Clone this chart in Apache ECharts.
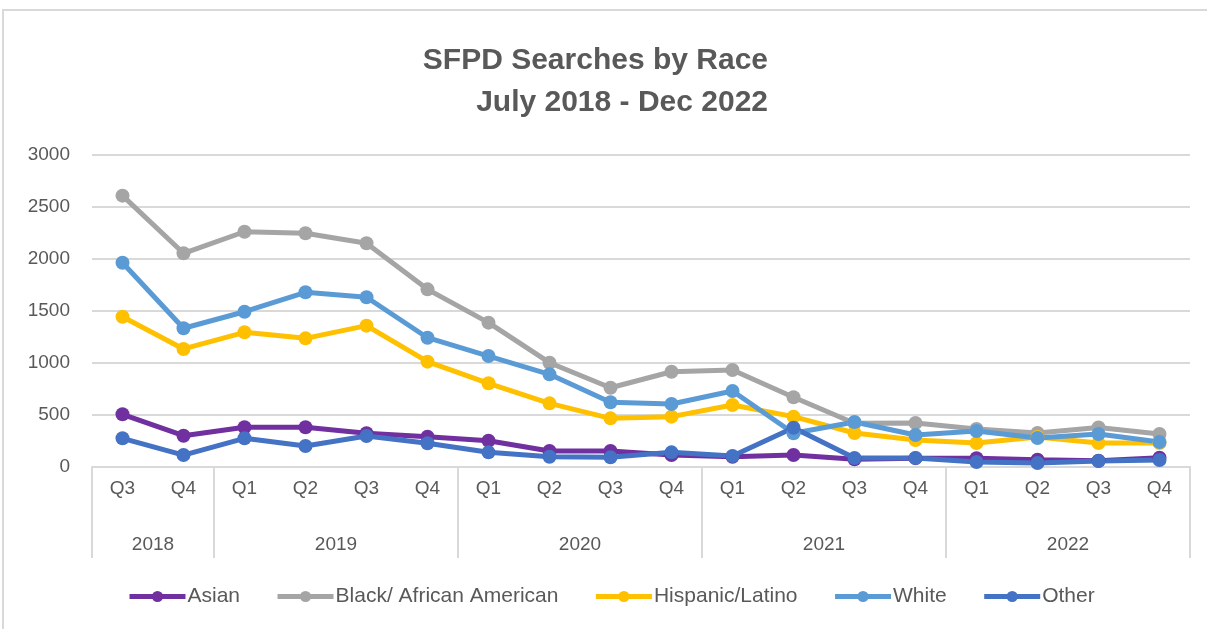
<!DOCTYPE html>
<html>
<head>
<meta charset="utf-8">
<script src="https://cdn.jsdelivr.net/npm/echarts@6/dist/echarts.min.js"></script>
<style>
    html, body { margin: 0; padding: 0; background: #fff; }
    #frame { position: absolute; left: 2px; top: 9px; width: 1230px; height: 650px; border: 2px solid #d9d9d9; }
    #main { position: absolute; left: 0; top: 0; width: 1207px; height: 629px; }
</style>
</head>
<body>
<div id="frame"></div>
<div id="main"></div>
<script>
// categories
var quarters = ['Q3','Q4','Q1','Q2','Q3','Q4','Q1','Q2','Q3','Q4','Q1','Q2','Q3','Q4','Q1','Q2','Q3','Q4'];
var years = ['2018', '2019', '2020', '2021', '2022'];
var quartersPerYear = [2, 4, 4, 4, 4];

// series values
var asian    = [507, 301, 382, 382, 324, 291, 253, 154, 154, 115, 99, 115, 75, 85, 85, 70, 60, 90];
var black    = [2609, 2055, 2262, 2247, 2151, 1708, 1388, 1003, 762, 916, 933, 670, 420, 423, 365, 327, 380, 317];
var hispanic = [1445, 1135, 1295, 1237, 1359, 1013, 805, 612, 468, 484, 596, 484, 327, 260, 230, 288, 230, 230];
var white    = [1964, 1334, 1493, 1680, 1632, 1243, 1067, 891, 622, 606, 731, 324, 433, 308, 346, 279, 317, 240];
var other    = [276, 115, 276, 202, 298, 228, 141, 99, 93, 141, 106, 378, 87, 87, 48, 38, 58, 67];

// y ticks
var yMin = 0, yMax = 3000, yStep = 500;

// second level of the x axis: half-quarter slots, years sit at group centres
var yearSlots = [];
var boundaries = [0];
var pos = 0;
for (var i = 0; i < 2 * quarters.length + 1; i++) yearSlots.push('');
for (var j = 0; j < years.length; j++) {
    yearSlots[2 * pos + quartersPerYear[j]] = years[j];
    pos += quartersPerYear[j];
    boundaries.push(2 * pos);
}

var txt = '#595959';
var font = '"Liberation Sans", Arial, sans-serif';

function line(name, color, data) {
    return {
        name: name,
        type: 'line',
        data: data,
        symbol: 'circle',
        symbolSize: 14,
        lineStyle: { width: 5, color: color },
        itemStyle: { color: color }
    };
}

var myChart = echarts.init(document.getElementById('main'));
var option = {
    animation: false,
    title: [
        {
            text: 'SFPD Searches by Race',
            right: 434, top: 40,
            textStyle: { fontFamily: font, fontSize: 30, fontWeight: 'bold', color: txt, lineHeight: 32 }
        },
        {
            text: 'July 2018 - Dec 2022',
            right: 434, top: 82,
            textStyle: { fontFamily: font, fontSize: 30, fontWeight: 'bold', color: txt, lineHeight: 32 }
        }
    ],
    legend: {
        left: 122, top: 581,
        itemWidth: 56, itemHeight: 14, itemGap: 35,
        lineStyle: { width: 5 },
        textStyle: { fontFamily: font, fontSize: 21, color: txt, padding: [0, 0, 0, -3] },
        data: ['Asian', 'Black/ African American', 'Hispanic/Latino', 'White', 'Other']
    },
    grid: { left: 92, right: 17, top: 155, bottom: 162 },
    xAxis: [
        {
            type: 'category',
            data: quarters,
            boundaryGap: true,
            axisLine: { lineStyle: { color: '#d9d9d9', width: 2 } },
            axisTick: { show: false },
            axisLabel: { fontFamily: font, fontSize: 19, color: txt, margin: 12, interval: 0 }
        },
        {
            type: 'category',
            data: yearSlots,
            boundaryGap: false,
            position: 'bottom',
            axisLine: { show: false },
            axisTick: {
                show: true, length: 91,
                interval: function (idx) { return boundaries.indexOf(idx) >= 0; },
                lineStyle: { color: '#d9d9d9', width: 2 }
            },
            axisLabel: {
                fontFamily: font, fontSize: 19, color: txt, margin: 68,
                interval: function (idx, val) { return val !== ''; }
            }
        }
    ],
    yAxis: {
        type: 'value',
        min: yMin, max: yMax, interval: yStep,
        axisLine: { show: false },
        axisTick: { show: false },
        axisLabel: {
            fontFamily: font, fontSize: 19, color: txt, margin: 22,
            formatter: function (v) { return String(v); }
        },
        splitLine: { lineStyle: { color: '#d9d9d9', width: 2 } }
    },
    series: [
        line('Asian', '#7030a0', asian),
        line('Black/ African American', '#a5a5a5', black),
        line('Hispanic/Latino', '#ffc000', hispanic),
        line('White', '#5b9bd5', white),
        line('Other', '#4472c4', other)
    ]
};
myChart.setOption(option);
</script>
</body>
</html>
